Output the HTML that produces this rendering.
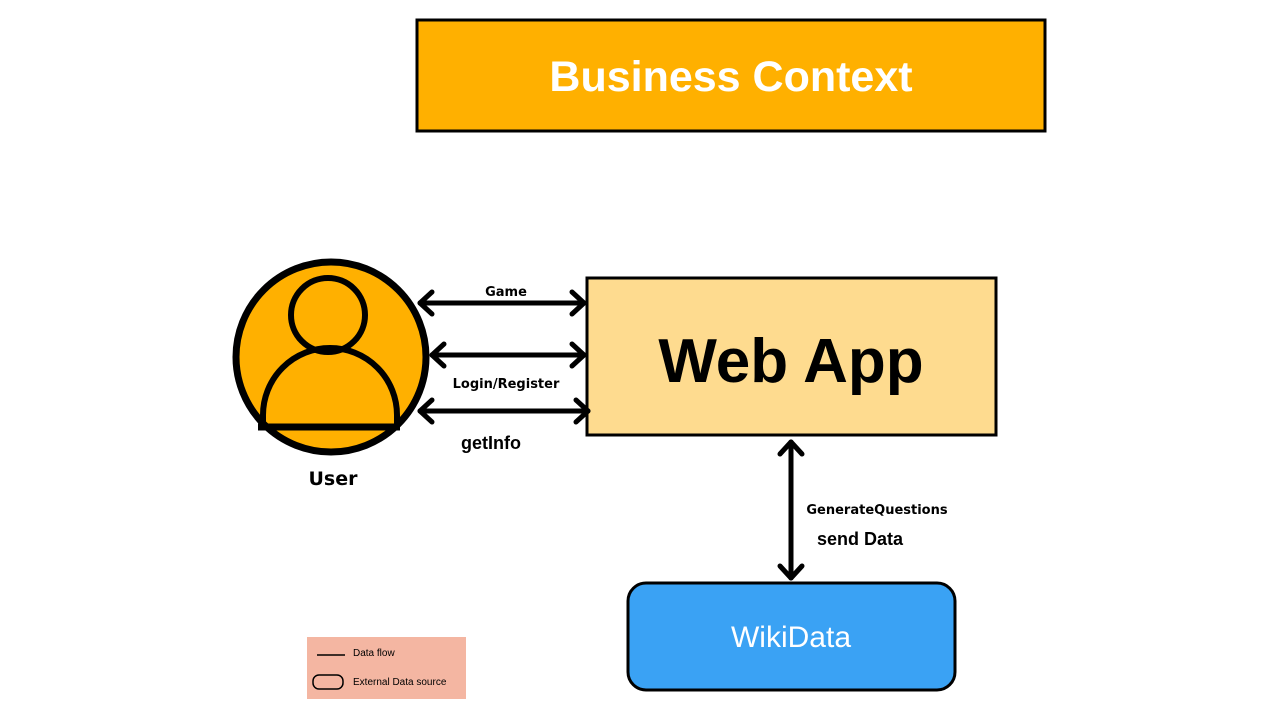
<!DOCTYPE html>
<html><head><meta charset="utf-8"><style>
body{margin:0;width:1280px;height:720px;background:#fff;overflow:hidden}
svg{display:block}
</style></head><body>
<svg width="1280" height="720" xmlns="http://www.w3.org/2000/svg" font-family="'Liberation Sans', 'DejaVu Sans', sans-serif">
<rect x="417" y="20" width="628" height="111" fill="#FFB000" stroke="#000" stroke-width="3"/>
<text x="731" y="91" text-anchor="middle" font-size="43" font-weight="bold" fill="#fff">Business Context</text>

<rect x="587" y="278" width="409" height="157" fill="#FEDB8F" stroke="#000" stroke-width="3"/>
<text x="791" y="382" text-anchor="middle" font-size="62" font-weight="bold" fill="#000">Web App</text>

<circle cx="331" cy="357" r="95" fill="#FFB000" stroke="#000" stroke-width="7"/>
<circle cx="328" cy="315" r="37" fill="none" stroke="#000" stroke-width="6"/>
<path d="M263 427 L263 415 A65 65 0 0 1 397 415 L397 427" fill="none" stroke="#000" stroke-width="6"/>
<line x1="258" y1="427" x2="400" y2="427" stroke="#000" stroke-width="7"/>
<text x="333" y="485" text-anchor="middle" font-size="19" font-weight="bold" font-family="'DejaVu Sans', sans-serif">User</text>

<g stroke="#000" stroke-width="5" fill="none" stroke-linecap="round" stroke-linejoin="round">
<line x1="420" y1="303" x2="584" y2="303"/><polyline points="432,292 420,303 432,314"/><polyline points="572,292 584,303 572,314"/>
<line x1="432" y1="355" x2="584" y2="355"/><polyline points="444,344 432,355 444,366"/><polyline points="572,344 584,355 572,366"/>
<line x1="420" y1="411" x2="588" y2="411"/><polyline points="432,400 420,411 432,422"/><polyline points="576,400 588,411 576,422"/>
<line x1="791" y1="442" x2="791" y2="578"/><polyline points="780,454 791,442 802,454"/><polyline points="780,566 791,578 802,566"/>
</g>
<text x="506" y="296" text-anchor="middle" font-size="13" font-weight="bold" font-family="'DejaVu Sans', sans-serif">Game</text>
<text x="506" y="388" text-anchor="middle" font-size="13" font-weight="bold" font-family="'DejaVu Sans', sans-serif">Login/Register</text>
<text x="491" y="449" text-anchor="middle" font-size="18" font-weight="bold">getInfo</text>
<text x="877" y="514" text-anchor="middle" font-size="13" font-weight="bold" font-family="'DejaVu Sans', sans-serif">GenerateQuestions</text>
<text x="860" y="545" text-anchor="middle" font-size="18" font-weight="bold">send Data</text>

<rect x="628" y="583" width="327" height="107" rx="18" fill="#3AA2F4" stroke="#000" stroke-width="3"/>
<text x="791" y="647" text-anchor="middle" font-size="30" fill="#fff">WikiData</text>

<rect x="307" y="637" width="159" height="62" fill="#F4B6A2"/>
<line x1="317" y1="655" x2="345" y2="655" stroke="#000" stroke-width="1.5"/>
<text x="353" y="656" font-size="10">Data flow</text>
<rect x="313" y="675" width="30" height="14" rx="6" fill="none" stroke="#000" stroke-width="1.5"/>
<text x="353" y="685" font-size="10">External Data source</text>
</svg>
</body></html>
